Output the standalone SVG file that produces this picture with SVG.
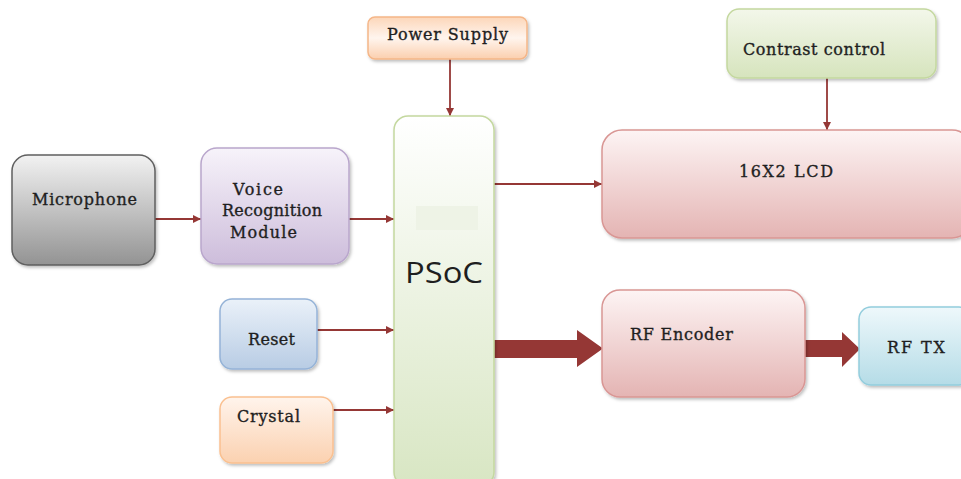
<svg xmlns="http://www.w3.org/2000/svg" width="961" height="479" viewBox="0 0 961 479">
<defs>
<linearGradient id="gGray" x1="0" y1="0" x2="0" y2="1"><stop offset="0" stop-color="#f2f2f2"/><stop offset="1" stop-color="#939393"/></linearGradient>
<linearGradient id="gPurple" x1="0" y1="0" x2="0" y2="1"><stop offset="0" stop-color="#f7f3fa"/><stop offset="1" stop-color="#cdbddb"/></linearGradient>
<linearGradient id="gPeachBar" x1="0" y1="0" x2="0" y2="1"><stop offset="0" stop-color="#fcd6b9"/><stop offset="0.5" stop-color="#fff5ee"/><stop offset="1" stop-color="#fbcfae"/></linearGradient>
<linearGradient id="gPeach" x1="0" y1="0" x2="0" y2="1"><stop offset="0" stop-color="#fff4ec"/><stop offset="1" stop-color="#fbd1b0"/></linearGradient>
<linearGradient id="gGreen" x1="0" y1="0" x2="0" y2="1"><stop offset="0" stop-color="#ffffff"/><stop offset="1" stop-color="#d8e6c3"/></linearGradient>
<linearGradient id="gGreen2" x1="0" y1="0" x2="0" y2="1"><stop offset="0" stop-color="#f3f7ea"/><stop offset="1" stop-color="#d6e4bd"/></linearGradient>
<linearGradient id="gPink" x1="0" y1="0" x2="0" y2="1"><stop offset="0" stop-color="#fdf4f4"/><stop offset="1" stop-color="#e4b4b3"/></linearGradient>
<linearGradient id="gBlue" x1="0" y1="0" x2="0" y2="1"><stop offset="0" stop-color="#eef8fb"/><stop offset="1" stop-color="#b5dce7"/></linearGradient>
<linearGradient id="gSteel" x1="0" y1="0" x2="0" y2="1"><stop offset="0" stop-color="#eaf1f9"/><stop offset="1" stop-color="#b8cce4"/></linearGradient>
<filter id="sh" x="-10%" y="-10%" width="125%" height="125%"><feDropShadow dx="1.5" dy="2" stdDeviation="1.5" flood-color="#000" flood-opacity="0.25"/></filter>
<marker id="ah" viewBox="0 0 10 10" refX="10" refY="5" markerWidth="8" markerHeight="8" markerUnits="userSpaceOnUse" orient="auto"><path d="M0,0 L10,5 L0,10 z" fill="#953735"/></marker>
</defs>
<style>
.box{stroke-width:1.5;filter:url(#sh)}
.t{font-family:"DejaVu Serif","Liberation Serif",serif;font-size:16px;fill:#1f1f1f;stroke:#1f1f1f;stroke-width:0.35}
.line{stroke:#953735;stroke-width:1.8;fill:none;marker-end:url(#ah)}
.big{fill:#953735}
</style>
<rect width="961" height="479" fill="#ffffff"/>
<g id="connectors">
<line class="line" x1="155" y1="219" x2="201" y2="219"/>
<line class="line" x1="349" y1="219" x2="394" y2="219"/>
<line class="line" x1="317" y1="330" x2="394" y2="330"/>
<line class="line" x1="333" y1="410" x2="394" y2="410"/>
<line class="line" x1="450" y1="59" x2="450" y2="116"/>
<line class="line" x1="827" y1="78" x2="827" y2="130"/>
<line class="line" x1="494" y1="184" x2="602" y2="184"/>
<path class="big" d="M494,340 L577,340 L577,330 L603,348.5 L577,367 L577,358 L494,358 z"/>
<path class="big" d="M805,340 L842,340 L842,332 L860,349 L842,367 L842,357 L805,357 z"/>
</g>
<g id="microphone">
<rect class="box" x="12" y="155" width="143" height="110" rx="16" fill="url(#gGray)" stroke="#5f5f5f"/>
<text class="t" x="32" y="205" textLength="105" lengthAdjust="spacing">Microphone</text>
</g>
<g id="voice">
<rect class="box" x="201" y="148" width="148" height="116" rx="16" fill="url(#gPurple)" stroke="#b9a6cc"/>
<text class="t" x="233" y="195" textLength="50" lengthAdjust="spacing">Voice</text>
<text class="t" x="222" y="216" textLength="100" lengthAdjust="spacing">Recognition</text>
<text class="t" x="230" y="238" textLength="67" lengthAdjust="spacing">Module</text>
</g>
<g id="power">
<rect class="box" x="368" y="17" width="159" height="42" rx="7" fill="url(#gPeachBar)" stroke="#f5b688"/>
<text class="t" x="387" y="40" textLength="121" lengthAdjust="spacing">Power Supply</text>
</g>
<g id="psoc">
<rect class="box" x="394" y="116" width="100" height="370" rx="14" fill="url(#gGreen)" stroke="#c4d89f"/>
<rect x="416" y="206" width="62" height="24" fill="#eef3e6"/>
<text x="405" y="283" textLength="78" lengthAdjust="spacingAndGlyphs" style="font-family:'Open Sans','Liberation Sans',sans-serif;font-size:29px;fill:#1f1f1f">PSoC</text>
</g>
<g id="contrast">
<rect class="box" x="727" y="9" width="209" height="69" rx="12" fill="url(#gGreen2)" stroke="#c4d89f"/>
<text class="t" x="743" y="55" textLength="142" lengthAdjust="spacing">Contrast control</text>
</g>
<g id="lcd">
<rect class="box" x="602" y="130" width="370" height="108" rx="20" fill="url(#gPink)" stroke="#d99694"/>
<text class="t" x="739" y="177" textLength="94" lengthAdjust="spacing">16X2 LCD</text>
</g>
<g id="rfencoder">
<rect class="box" x="602" y="290" width="203" height="107" rx="18" fill="url(#gPink)" stroke="#d99694"/>
<text class="t" x="630" y="340" textLength="103" lengthAdjust="spacing">RF Encoder</text>
</g>
<g id="rftx">
<rect class="box" x="859" y="307" width="112" height="78" rx="12" fill="url(#gBlue)" stroke="#93cddd"/>
<text class="t" x="887" y="353" textLength="58" lengthAdjust="spacing">RF TX</text>
</g>
<g id="reset">
<rect class="box" x="220" y="299" width="97" height="70" rx="12" fill="url(#gSteel)" stroke="#95b3d7"/>
<text class="t" x="248" y="345" textLength="47" lengthAdjust="spacing">Reset</text>
</g>
<g id="crystal">
<rect class="box" x="220" y="397" width="113" height="66" rx="12" fill="url(#gPeach)" stroke="#fac090"/>
<text class="t" x="237" y="422" textLength="63" lengthAdjust="spacing">Crystal</text>
</g>
</svg>
